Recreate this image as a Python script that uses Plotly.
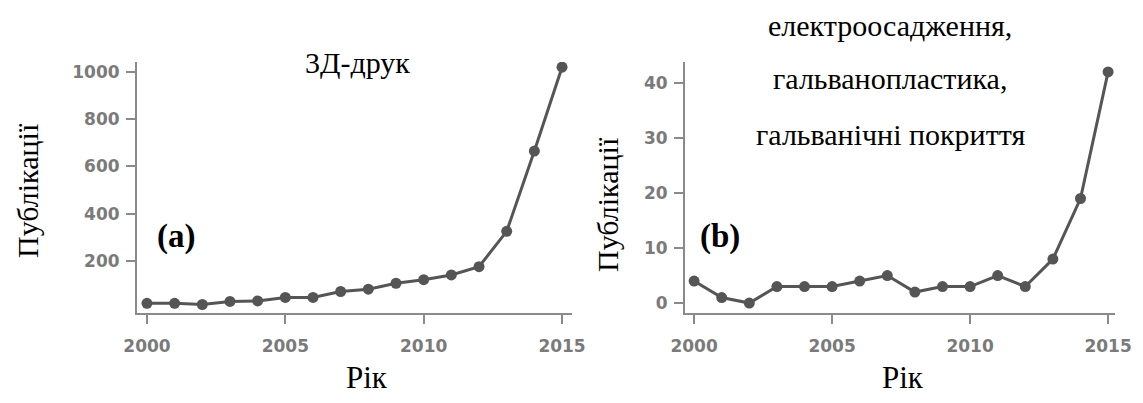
import plotly.graph_objects as go

years = list(range(2000, 2016))
pubs_3d = [20, 20, 15, 28, 30, 45, 45, 70, 80, 105, 120, 140, 175, 325, 665, 1020]
pubs_electro = [4, 1, 0, 3, 3, 3, 4, 5, 2, 3, 3, 5, 3, 8, 19, 42]
yticks_a = [200, 400, 600, 800, 1000]
yticks_b = [0, 10, 20, 30, 40]
xticks = [2000, 2005, 2010, 2015]

line_col = "#555555"
axis_col = "#8a8a8a"
tick_font = dict(family="DejaVu Sans", size=17, color="#7a7a7a", weight="bold")
serif = "Liberation Serif"

fig = go.Figure()
fig.add_trace(go.Scatter(x=years, y=pubs_3d, mode="lines+markers", xaxis="x", yaxis="y",
                         line=dict(color=line_col, width=3), marker=dict(color=line_col, size=11)))
fig.add_trace(go.Scatter(x=years, y=pubs_electro, mode="lines+markers", xaxis="x2", yaxis="y2",
                         line=dict(color=line_col, width=3), marker=dict(color=line_col, size=11)))

ydom = [1 - 313 / 403, 1 - 62 / 403]
common_axis = dict(showline=True, linecolor=axis_col, linewidth=2, ticks="outside",
                   tickcolor=axis_col, ticklen=9, tickwidth=2, showgrid=False,
                   zeroline=False, tickfont=tick_font, automargin=False)

fig.update_layout(
    template="none",
    width=1143, height=403, margin=dict(l=0, r=0, t=0, b=0, pad=0),
    paper_bgcolor="white", plot_bgcolor="white", showlegend=False,
    xaxis=dict(domain=[137 / 1143, 572 / 1143], range=[1999.64, 2015.36], tickvals=xticks,
               anchor="y", ticklabelstandoff=8, **common_axis),
    yaxis=dict(domain=ydom, range=[-21, 1042], tickvals=yticks_a, anchor="x",
               ticklabelstandoff=3, **common_axis),
    xaxis2=dict(domain=[685 / 1143, 1115 / 1143], range=[1999.67, 2015.25], tickvals=xticks,
                anchor="y2", ticklabelstandoff=8, **common_axis),
    yaxis2=dict(domain=ydom, range=[-1.8, 43.8], tickvals=yticks_b, anchor="x2",
                ticklabelstandoff=3, **common_axis),
)

def ann(text, x, y, size=22, bold=False, angle=0):
    fig.add_annotation(text=f"<b>{text}</b>" if bold else text, x=x / 1143, y=1 - y / 403,
                       xref="paper", yref="paper", showarrow=False, textangle=angle,
                       font=dict(family=serif, size=size, color="black"),
                       xanchor="center", yanchor="middle")

ann("3Д-друк", 357, 62, size=30)
ann("електроосадження,", 890, 25, size=30)
ann("гальванопластика,", 890, 79, size=30)
ann("гальванічні покриття", 890, 135, size=30)
ann("(a)", 176, 236, size=33, bold=True)
ann("(b)", 720, 236, size=33, bold=True)
ann("Публікації", 28, 191, size=30, angle=-90)
ann("Публікації", 607, 205, size=30, angle=-90)
ann("Рік", 367, 377, size=31)
ann("Рік", 903, 377, size=31)

fig.write_html("out.html")
